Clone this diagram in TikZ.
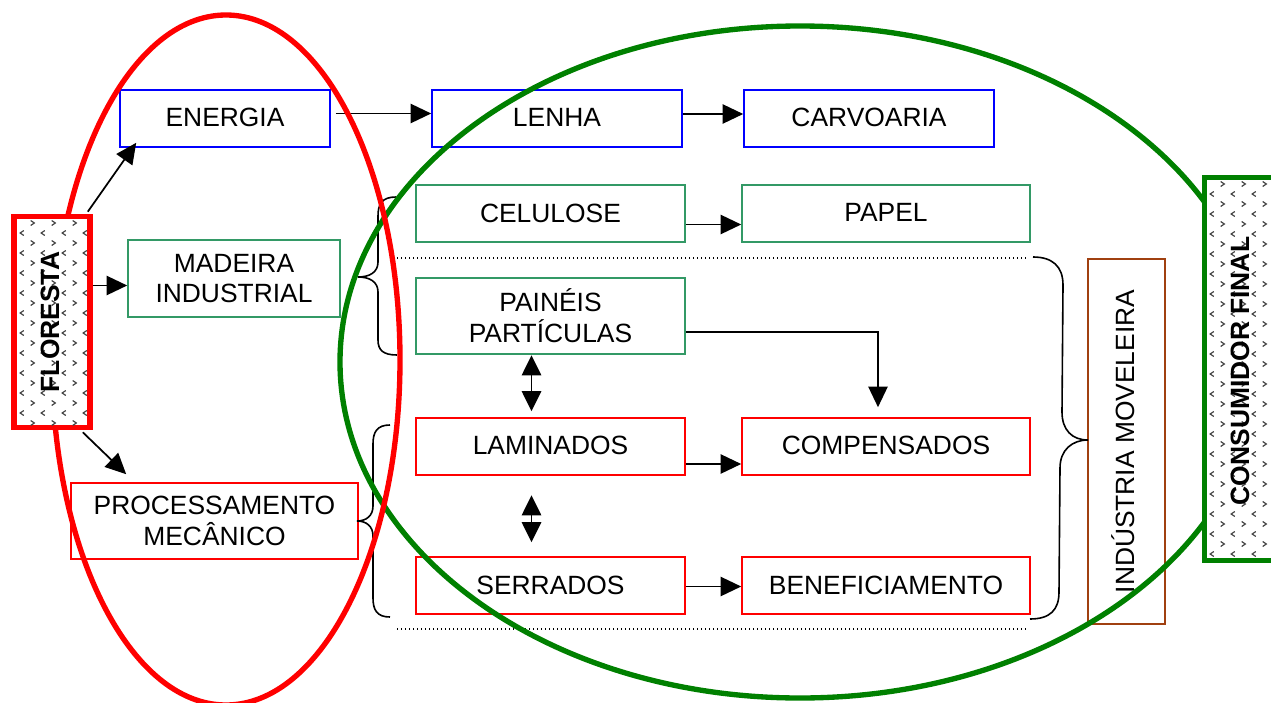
\documentclass[tikz,border=0pt]{standalone}
\usepackage{fontspec}
\setmainfont{Liberation Sans}
\usetikzlibrary{arrows.meta,calc}
\definecolor{bblue}{RGB}{0,0,255}
\definecolor{bgreen}{RGB}{51,153,102}
\definecolor{bred}{RGB}{255,0,0}
\definecolor{bbrown}{RGB}{160,64,16}
\definecolor{dgreen}{RGB}{0,128,0}
\definecolor{patgray}{RGB}{70,70,70}
\tikzset{
  sz/.style 2 args={minimum width={#1*0.75pt}, minimum height={#2*0.75pt}},
  box/.style={draw, line width=1.2pt, fill=white, align=center, inner sep=0pt,
              font=\fontsize{19.8}{23}\selectfont},
  bluebox/.style={box, draw=bblue},
  greenbox/.style={box, draw=bgreen},
  redbox/.style={box, draw=bred},
  brownbox/.style={box, draw=bbrown},
  bigtxt/.style={font=\fontsize{19.8}{23}\selectfont, inner sep=0pt},
  arr/.style={line width=1.3pt, -{Triangle[length=15.5pt,width=14.5pt]}},
  darr/.style={line width=1.3pt, {Triangle[length=15pt,width=14.5pt]}-{Triangle[length=15pt,width=14.5pt]}},
  bracepath/.style={line width=1.2pt},
  dotline/.style={line width=1pt, dash pattern=on 1pt off 2pt},
  patmark/.style={patgray, line width=0.9pt},
  ring/.style={line width=4pt},
}
\begin{document}
\begin{tikzpicture}[x=0.75pt,y=-0.75pt]
\useasboundingbox (0,0) rectangle (1271,703);
\clip (0,0) rectangle (1271,703);

% ---------- boxes ----------
\node[bluebox, sz={210}{57}] (ener) at (225,118.5) {\raisebox{2pt}{ENERGIA}};
\node[bluebox, sz={250}{57}] (lenha) at (557,118.5) {\raisebox{2pt}{LENHA}};
\node[bluebox, sz={250}{57}] (carv) at (869,118.5) {\raisebox{2pt}{CARVOARIA}};
\node[greenbox, sz={269}{57}] (celu) at (550.5,213.5) {\raisebox{1pt}{CELULOSE}};
\node[greenbox, sz={288}{57}] (papel) at (886,213.5) {\raisebox{1pt}{PAPEL}};
\node[greenbox, sz={212}{77}] (made) at (234,278.5) {MADEIRA\\INDUSTRIAL};
\node[greenbox, sz={269}{76}] (pain) at (550.5,316) {PAINÉIS\\PARTÍCULAS};
\node[redbox, sz={269}{57}] (lami) at (550.5,446.5) {\raisebox{1.5pt}{LAMINADOS}};
\node[redbox, sz={288}{57}] (comp) at (886,446.5) {\raisebox{1.5pt}{COMPENSADOS}};
\node[redbox, sz={287}{76}] (proc) at (214.5,521) {PROCESSAMENTO\\MECÂNICO};
\node[redbox, sz={269}{57}] (serr) at (550.5,585.5) {\raisebox{1pt}{SERRADOS}};
\node[redbox, sz={288}{57}] (bene) at (886,585.5) {\raisebox{1pt}{BENEFICIAMENTO}};
\node[brownbox, sz={77}{365}] (indu) at (1126.5,441.5) {};
\node[bigtxt, rotate=90] (indutxt) at (1123,441.5) {INDÚSTRIA MOVELEIRA};

% ---------- dotted separators ----------
\draw[dotline] (397,258) -- (1028,258);
\draw[dotline] (397,629) -- (1028,629);

% ---------- braces ----------
\draw[bracepath] (396,197) .. controls (382,197) and (378,204) .. (378,216)
  -- (378,262) .. controls (378,272) and (370,277) .. (358,277)
  .. controls (370,277) and (378,282) .. (378,292)
  -- (378,340) .. controls (378,350) and (383,355) .. (397,355);
\draw[bracepath] (390,425) .. controls (377,425) and (373,432) .. (373,444)
  -- (373,506) .. controls (373,516) and (366,521) .. (357,521)
  .. controls (366,521) and (373,526) .. (373,536)
  -- (373,598) .. controls (373,610) and (377,617) .. (390,617);
\draw[bracepath] (1033,257) .. controls (1052,257) and (1063,266) .. (1063,285)
  -- (1062,412) .. controls (1062,430) and (1072,440) .. (1088,440)
  .. controls (1072,440) and (1060,450) .. (1060,468)
  -- (1059,592) .. controls (1059,610) and (1050,619) .. (1030,619);

% ---------- arrows ----------
\draw[arr] ($(ener.east)+(5,-5)$) -- ($(lenha.west)+(0,-5)$);
\draw[arr] ($(lenha.east)+(0,-4.5)$) -- ($(carv.west)+(0,-4.5)$);
\draw[arr] ($(celu.east)+(0,11)$) -- ($(papel.west)+(0,11)$);
\draw[arr] ($(pain.east)+(0,16)$) -| ($(comp.north)+(-8,-10)$);
\draw[arr] ($(lami.east)+(0,17.5)$) -- ($(comp.west)+(0,17.5)$);
\draw[arr] ($(serr.east)+(0,1)$) -- ($(bene.west)+(0,1)$);
\draw[darr] ($(pain.south)+(-19,0.5)$) -- ($(lami.north)+(-19,-6)$);
\coordinate (d1) at ($(lami.south)+(-19,19.5)$);
\coordinate (d2) at ($(serr.north)+(-19,-14)$);
\draw[darr] (d1) -- (d2);

% ---------- ellipses ----------
\draw[ring, dgreen] (800,362) ellipse [x radius=460, y radius=336];
\draw[ring, bred] (226,360) ellipse [x radius=174, y radius=345];

% ---------- FLORESTA ----------
\node[draw=bred, line width=4.2pt, fill=white, sz={76}{211}, inner sep=0pt] (flor) at (52,322) {};
\begin{scope}
  \clip ($(flor.south west)+(3,-3)$) rectangle ($(flor.north east)+(-3,3)$);
  \foreach \yy [count=\i] in {223,233,...,433} {
    \pgfmathsetmacro\off{mod(\i,2)*10.5}
    \pgfmathsetmacro\sg{ifthenelse(mod(\i,2)==0,1,-1)}
    \foreach \xx in {1,22,43,64,85} {
      \draw[patmark] (\xx+\off+1.8*\sg,\yy-2.5) -- ++(-3.6*\sg,2.5) -- ++(3.6*\sg,2.5);
    }
  }
\end{scope}
\node[bigtxt, font=\fontsize{19.8}{23}\selectfont\bfseries, rotate=90] (flortxt) at (50,322) {FLORESTA};

% ---------- CONSUMIDOR FINAL ----------
\node[draw=dgreen, line width=3.6pt, fill=white, sz={72}{383}, inner sep=0pt] (cons) at (1240.5,369) {};
\begin{scope}
  \clip ($(cons.south west)+(3,-3)$) rectangle ($(cons.north east)+(-3,3)$);
  \foreach \yy [count=\i] in {184,194,...,564} {
    \pgfmathsetmacro\off{mod(\i,2)*10.5}
    \pgfmathsetmacro\sg{ifthenelse(mod(\i,2)==0,1,-1)}
    \foreach \xx in {1191,1212,1233,1254,1275} {
      \draw[patmark] (\xx+\off+1.8*\sg,\yy-2.5) -- ++(-3.6*\sg,2.5) -- ++(3.6*\sg,2.5);
    }
  }
\end{scope}
\node[bigtxt, font=\fontsize{19.8}{23}\selectfont\bfseries, rotate=90] (constxt) at (1240,371) {CONSUMIDOR FINAL};

% ---------- arrows from FLORESTA ----------
\draw[arr] ($(flor.north east)+(-5,-2)$) -- ($(ener.south west)+(17,-5)$);
\coordinate (mw) at ($(made.west)+(0,7)$);
\draw[arr] (flor.east |- mw) -- (mw);
\draw[arr] ($(flor.south east)+(-10,2)$) -- ($(proc.north west)+(56,-8)$);

\end{tikzpicture}
\end{document}
